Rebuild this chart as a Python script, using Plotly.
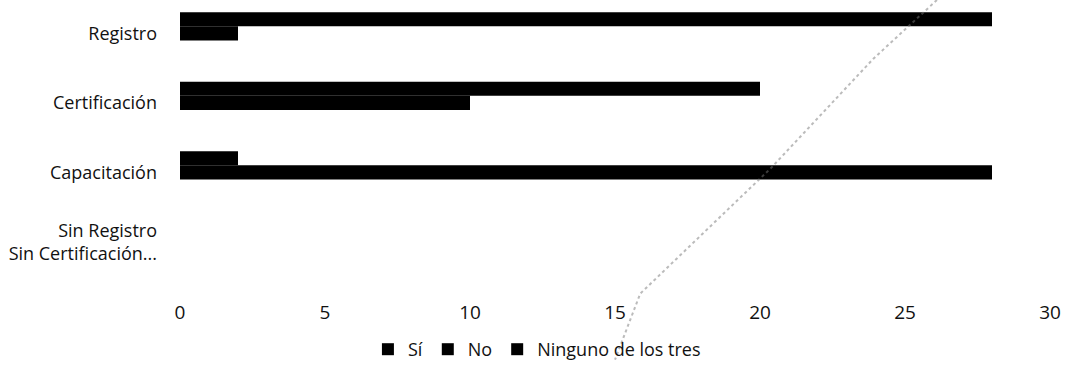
import plotly.graph_objects as go

# Categories (top to bottom as read on the chart)
categorias = ["Registro", "Certificación", "Capacitación", "Sin Registro<br>Sin Certificación..."]

# Series values
si = [0, 0, 0, 0]
no = [2, 10, 28, 0]
ninguno = [28, 20, 2, 0]

x_ticks = [0, 5, 10, 15, 20, 25, 30]

FONT = "Open Sans"
BLACK = "#000000"

fig = go.Figure()
for nombre, valores in [("Sí", si), ("No", no), ("Ninguno de los tres", ninguno)]:
    fig.add_trace(go.Bar(
        y=categorias, x=valores, name=nombre, orientation="h",
        marker=dict(color=BLACK, line=dict(width=0)),
    ))

fig.update_layout(
    width=1065, height=368,
    margin=dict(l=180, r=15, t=0, b=81),
    paper_bgcolor="white", plot_bgcolor="white",
    barmode="group", bargap=0.39, bargroupgap=0,
    font=dict(family=FONT, size=19, color="#111111"),
    showlegend=True,
    legend=dict(orientation="h", x=0.216, xanchor="left", y=-0.245, yanchor="middle",
                font=dict(size=18), traceorder="normal", itemwidth=30,
                bgcolor="rgba(0,0,0,0)"),
    xaxis=dict(range=[0, 30], tickvals=x_ticks, showgrid=False, zeroline=False,
               showline=False, ticks="", ticklabelstandoff=18, automargin=False),
    yaxis=dict(categoryorder="array", categoryarray=categorias[::-1],
               range=[-0.562, 3.48], tickfont=dict(size=18), automargin=False,
               showgrid=False, zeroline=False, showline=False, ticks="",
               ticklabelstandoff=22),
)

# faint dotted scan streak across the sheet
fig.add_shape(type="path", xref="paper", yref="paper",
              path="M 0.870 1.0 L 0.797 0.791 L 0.679 0.401 L 0.529 -0.045 L 0.500 -0.28",
              line=dict(color="rgba(120,120,120,0.5)", width=2, dash="dot"))

fig.write_html("out.html")
